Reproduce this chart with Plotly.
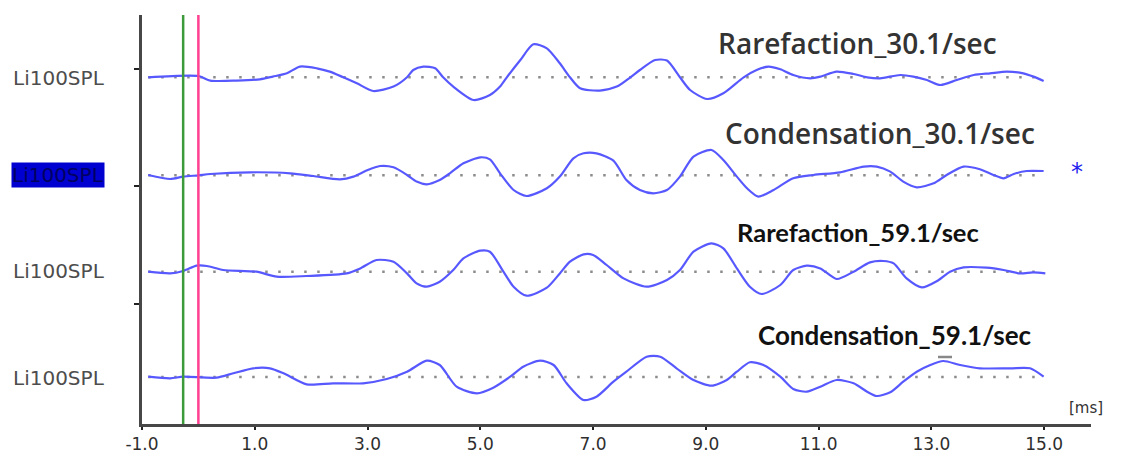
import plotly.graph_objects as go

# ---------------- data (time in ms, amplitude in arbitrary units, up = positive) -------------
rare30_t = [-0.89, 0.00, 0.21, 0.68, 1.09, 1.32, 1.57, 1.80, 2.10, 2.33, 2.57, 2.81, 3.10, 3.46, 3.70,
            3.81, 3.99, 4.20, 4.34, 4.52, 4.88, 5.17, 5.35, 5.47, 5.71, 5.94, 6.18, 6.41, 6.59, 6.77,
            7.12, 7.42, 7.66, 7.83, 8.10, 8.31, 8.54, 8.72, 9.02, 9.31, 9.67, 9.90, 10.11, 10.32,
            10.55, 10.85, 11.03, 11.32, 11.62, 11.86, 12.09, 12.45, 12.68, 12.92, 13.16, 13.45,
            13.75, 14.04, 14.34, 14.63, 14.81, 14.99]
rare30_a = [0, 1.3, -3.3, -3.3, -2, 0.7, 4, 10.7, 9, 5.7, 0, -6, -13.7, -9.3, 0,
            7.3, 10.7, 9, 0, -9.3, -22.7, -17.7, -9.3, 0, 17.3, 33, 29, 14, 0, -11,
            -13.3, -9.3, 0, 7.3, 17.3, 16.7, 0, -12.7, -21.7, -16, 0, 7.3, 10.7, 8,
            2.3, -1, 0.7, 5.7, 3.3, 0, -1, 2.3, 0.7, -2.7, -7.7, -2.7,
            2.3, 4, 5.7, 4, 0.7, -3.7]

cond30_t = [-0.89, -0.50, -0.27, 0.00, 0.21, 0.92, 1.63, 2.04, 2.51, 2.75, 2.98, 3.22, 3.46, 3.70,
            3.87, 4.05, 4.28, 4.46, 4.70, 5.00, 5.17, 5.35, 5.59, 5.82, 6.18, 6.41, 6.65, 6.83,
            7.06, 7.36, 7.59, 7.83, 8.07, 8.31, 8.54, 8.78, 9.10, 9.31, 9.55, 9.73, 9.93, 10.20,
            10.55, 10.91, 11.38, 11.80, 12.03, 12.27, 12.50, 12.74, 13.04, 13.27, 13.57, 13.86,
            14.10, 14.28, 14.46, 14.69, 14.99]
cond30_a = [0.3, -3.7, -1.3, 0, 1.3, 3, 2, -0.7, -4, -1.3, 4.7, 9.3, 8, 0.3,
            -6.3, -9, -4.7, 2, 12, 18, 16, 2, -14.7, -20.7, -13, -1.3, 17, 22,
            22, 14.7, -4.7, -14.7, -18, -14.7, -1.3, 18.7, 25.3, 15.3, -1.3, -13, -21.3, -14.7,
            -3, 0.3, 3, 8.7, 8.7, 3.7, -6.3, -12, -8, 0.3, 8.7, 6,
            0.3, -3, 1.3, 4.3, 4.3]

rare59_t = [-0.89, -0.50, -0.27, -0.03, 0.15, 0.44, 1.03, 1.39, 1.92, 2.63, 2.87, 3.16, 3.46, 3.70,
            3.87, 4.05, 4.28, 4.52, 4.70, 5.00, 5.17, 5.41, 5.59, 5.82, 6.18, 6.41, 6.59, 6.83,
            7.00, 7.24, 7.54, 7.95, 8.31, 8.54, 8.78, 9.10, 9.31, 9.55, 9.78, 9.99, 10.32, 10.55,
            10.79, 11.03, 11.32, 11.62, 11.91, 12.15, 12.33, 12.56, 12.83, 13.10, 13.33, 13.57,
            13.98, 14.28, 14.57, 14.81, 15.02]
rare59_a = [0, -1.7, 0.7, 6, 5.7, 1.7, 0, -5, -4.3, -1.7, 3.3, 11.7, 10, -1.7,
            -11.7, -15, -10, 1.7, 13.3, 21, 20, 0, -15, -24, -16, -1.7, 10, 17.3,
            16.7, 6.7, -6.7, -15, -8.3, 1.7, 20, 28.3, 23.3, 3.3, -15, -22.3, -13.3, 1.7,
            6, 3.3, -7.3, 0, 9.3, 10.7, 8.3, -6.7, -15.7, -9.3, 0, 4.3,
            4, 1.7, -1.7, -0.7, -1.7]

cond59_t = [-0.89, -0.50, -0.27, 0.32, 0.62, 0.97, 1.27, 1.51, 1.92, 2.39, 2.92, 3.34, 3.70, 4.05,
            4.28, 4.58, 4.94, 5.23, 5.53, 5.76, 6.06, 6.30, 6.53, 6.83, 7.06, 7.36, 7.59, 7.95,
            8.19, 8.48, 8.78, 9.10, 9.37, 9.55, 9.78, 10.02, 10.32, 10.55, 10.79, 11.03, 11.32,
            11.62, 11.86, 12.03, 12.27, 12.50, 12.74, 12.98, 13.21, 13.51, 13.86, 14.40, 14.75, 14.99]
cond59_a = [0.3, -1.3, 0.3, -0.7, 3.7, 8.7, 8.7, 3.7, -7.3, -6.3, -6.3, -2, 5.3, 16.3,
            12, -9.7, -16.3, -10.7, 0.3, 10.3, 16.3, 12, -6.3, -23, -19.7, -4.7, 5.3, 20.3,
            20.3, 8.7, -3, -8.7, -3, 5.3, 14.7, 12, 0.3, -12, -14.7, -9.7, -3,
            -6.3, -14.7, -19, -15.3, -4.7, 5.3, 12, 16, 12, 8.7, 8.7, 8.7, 0.3]

series_names = ["Rarefaction_30.1/sec", "Condensation_30.1/sec",
                "Rarefaction_59.1/sec", "Condensation_59.1/sec"]
channel_labels = ["Li100SPL", "Li100SPL", "Li100SPL", "Li100SPL"]
tick_vals = [-1, 1, 3, 5, 7, 9, 11, 13, 15]
tick_text = ["-1.0", "1.0", "3.0", "5.0", "7.0", "9.0", "11.0", "13.0", "15.0"]
marker_green_ms = -0.27
marker_pink_ms = 0.0

# ---------------- layout constants ----------------
W, H = 1136, 455
ML, MR, MT, MB = 142, 45, 15, 31
PW, PH = W - ML - MR, H - MT - MB
X0, X1 = -1.0, 15.83
offsets = [346.7, 248.7, 152.3, 47.0]   # vertical stacking of the 4 waveforms
wave_color = "#5858ff"


def px_x(px):
    return (px - ML) / PW


def px_y(py):
    return (H - MB - py) / PH


fig = go.Figure()
all_t = [rare30_t, cond30_t, rare59_t, cond59_t]
all_a = [rare30_a, cond30_a, rare59_a, cond59_a]

for t, a, off in zip(all_t, all_a, offsets):
    # dotted baseline
    fig.add_trace(go.Scatter(x=[t[0], 15.0], y=[off, off], mode="lines",
                             line=dict(color="#8c8c8c", width=2.5, dash="2.5px,10.5px"),
                             hoverinfo="skip", showlegend=False))
    fig.add_trace(go.Scatter(x=t, y=[off + v for v in a], mode="lines",
                             line=dict(color=wave_color, width=2.2, shape="spline", smoothing=0.7),
                             showlegend=False))

# vertical cursor lines
fig.add_shape(type="line", xref="x", yref="paper", x0=marker_green_ms, x1=marker_green_ms,
              y0=0, y1=1, line=dict(color="#3c9a3c", width=2.5))
fig.add_shape(type="line", xref="x", yref="paper", x0=marker_pink_ms, x1=marker_pink_ms,
              y0=0, y1=1, line=dict(color="#ff3f8f", width=2.5))

# small grey dash near Condensation_59.1
fig.add_shape(type="line", xref="paper", yref="paper", x0=px_x(938), x1=px_x(952),
              y0=px_y(357), y1=px_y(357), line=dict(color="#888888", width=2.5))

annotations = []
# channel labels
label_y = [78, 175.5, 271, 378]
for i, (lab, ly) in enumerate(zip(channel_labels, label_y)):
    ann = dict(text=lab, xref="paper", yref="paper", x=px_x(11), y=px_y(ly),
               xanchor="left", yanchor="middle", showarrow=False,
               font=dict(family="DejaVu Sans", size=20, color="#4d4d4d"))
    if i == 1:
        ann.update(bgcolor="#0000d0", borderpad=0,
                   font=dict(family="DejaVu Sans", size=20, color="#000060"))
    annotations.append(ann)

# series titles
title_pos = [(857, 43), (880, 133), (858, 232), (895, 335)]
title_fonts = [dict(family="Open Sans", size=28, color="#333333", weight=600),
               dict(family="Open Sans", size=28, color="#333333", weight=600),
               dict(family="Lato", size=25.5, color="#111111", weight=700),
               dict(family="Lato", size=26, color="#111111", weight=700)]
for name, (cx, cy), f in zip(series_names, title_pos, title_fonts):
    annotations.append(dict(text=name, xref="paper", yref="paper", x=px_x(cx), y=px_y(cy),
                            xanchor="center", yanchor="middle", showarrow=False, font=f))

annotations.append(dict(text="*", xref="paper", yref="paper", x=px_x(1077), y=px_y(172),
                        xanchor="center", yanchor="middle", showarrow=False,
                        font=dict(family="DejaVu Sans", size=24, color="#2020ee")))
annotations.append(dict(text="[ms]", xref="paper", yref="paper", x=px_x(1086), y=px_y(408),
                        xanchor="center", yanchor="middle", showarrow=False,
                        font=dict(family="DejaVu Sans", size=15, color="#333333")))

fig.update_layout(
    width=W, height=H,
    margin=dict(l=ML, r=MR, t=MT, b=MB, pad=0, autoexpand=False),
    paper_bgcolor="white", plot_bgcolor="white",
    annotations=annotations,
    xaxis=dict(range=[X0, X1], tickvals=tick_vals, ticktext=tick_text, automargin=False,
               showgrid=False, zeroline=False, showline=True, linecolor="#474747", linewidth=3,
               ticks="outside", ticklen=3, tickwidth=2, tickcolor="#222222",
               tickfont=dict(family="DejaVu Sans", size=17, color="#2e2e2e")),
    yaxis=dict(range=[0, PH], tickvals=[120, 238, 355], showticklabels=False, automargin=False,
               showgrid=False, zeroline=False, showline=True, linecolor="#474747", linewidth=3,
               ticks="outside", ticklen=5, tickwidth=2, tickcolor="#222222"),
)

fig.write_html("out.html")
